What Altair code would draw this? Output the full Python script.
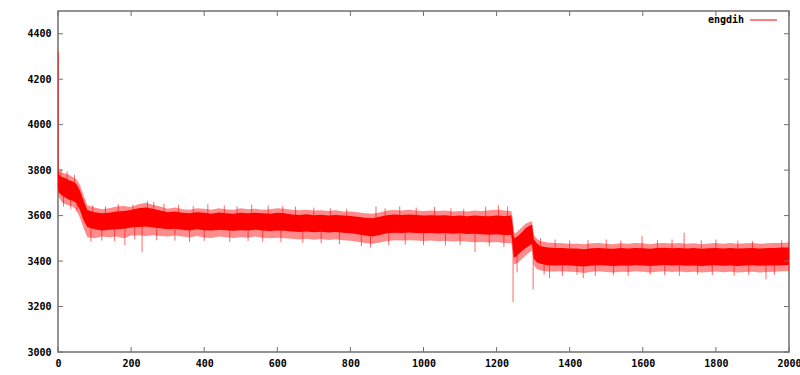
import altair as alt
import pandas as pd

series_name = ["engdih"]

x_vals = [0, 3, 10, 20, 30, 40, 50, 60, 70, 80,
          100, 120, 140, 160, 180, 200, 220, 240, 260, 280,
          300, 320, 340, 360, 380, 400, 420, 440, 460, 480,
          500, 520, 540, 560, 580, 600, 620, 640, 660, 680,
          700, 720, 740, 760, 780, 800, 820, 840, 860, 880,
          900, 920, 940, 960, 980, 1000, 1020, 1040, 1060, 1080,
          1100, 1120, 1140, 1160, 1180, 1200, 1220, 1240, 1244, 1247,
          1250, 1260, 1270, 1280, 1290, 1297, 1302, 1310, 1320, 1340,
          1360, 1380, 1400, 1420, 1440, 1460, 1480, 1500, 1520, 1540,
          1560, 1580, 1600, 1620, 1640, 1660, 1680, 1700, 1720, 1740,
          1760, 1780, 1800, 1820, 1840, 1860, 1880, 1900, 1920, 1940,
          1960, 1980, 2000]

core_lo = [3720, 3700, 3690, 3680, 3670, 3665, 3655, 3625, 3580, 3550,
           3540, 3535, 3538, 3540, 3542, 3548, 3550, 3552, 3548, 3544,
           3540, 3542, 3538, 3535, 3540, 3536, 3534, 3538, 3536, 3533,
           3536, 3534, 3538, 3535, 3532, 3535, 3533, 3530, 3528, 3530,
           3527, 3529, 3526, 3528, 3525, 3522, 3518, 3512, 3508, 3515,
           3522, 3525, 3523, 3526, 3524, 3522, 3524, 3521, 3523, 3520,
           3522, 3519, 3520, 3518, 3516, 3518, 3515, 3515, 3470, 3420,
           3415, 3430, 3445, 3458, 3468, 3475, 3410, 3395, 3388, 3382,
           3380, 3382, 3380, 3378, 3376, 3380, 3382, 3380, 3378, 3381,
           3379, 3382, 3380, 3378, 3381, 3383, 3380, 3382, 3379, 3381,
           3378, 3380, 3382, 3379, 3381, 3378, 3380, 3382, 3379, 3381,
           3380, 3382, 3383]

core_hi = [3800, 3780, 3770, 3765, 3755, 3750, 3740, 3710, 3665, 3625,
           3615, 3610, 3612, 3618, 3620, 3625, 3632, 3636, 3630, 3622,
           3615, 3618, 3612, 3610, 3615, 3612, 3608, 3614, 3610, 3608,
           3612, 3610, 3613, 3610, 3608, 3612, 3610, 3605, 3603, 3606,
           3602, 3604, 3600, 3603, 3600, 3598, 3595, 3590, 3588, 3595,
           3602, 3605, 3603, 3605, 3603, 3600, 3602, 3600, 3602, 3598,
           3600, 3597, 3600, 3598, 3597, 3600, 3598, 3600, 3560, 3510,
           3500, 3512, 3528, 3545, 3555, 3560, 3495, 3478, 3465, 3460,
           3458, 3458, 3455, 3455, 3452, 3456, 3458, 3455, 3454, 3457,
           3455, 3458, 3456, 3454, 3457, 3459, 3456, 3458, 3455, 3457,
           3454, 3456, 3458, 3455, 3457, 3455, 3456, 3458, 3455, 3457,
           3458, 3460, 3460]

out_lo = [3700, 3680, 3660, 3650, 3645, 3640, 3625, 3590, 3545, 3505,
          3500, 3508, 3505, 3508, 3500, 3512, 3514, 3510, 3514, 3510,
          3508, 3512, 3508, 3504, 3510, 3504, 3502, 3508, 3505, 3502,
          3505, 3503, 3508, 3503, 3500, 3503, 3500, 3498, 3495, 3498,
          3494, 3497, 3493, 3496, 3492, 3489, 3485, 3480, 3476, 3482,
          3488, 3492, 3490, 3492, 3490, 3488, 3490, 3487, 3489, 3486,
          3488, 3485, 3483, 3484, 3482, 3484, 3480, 3480, 3440, 3390,
          3385, 3395, 3410, 3425, 3440, 3445, 3380, 3365, 3358, 3354,
          3354, 3355, 3353, 3352, 3348, 3353, 3355, 3352, 3350, 3353,
          3352, 3355, 3353, 3350, 3353, 3355, 3352, 3354, 3351, 3353,
          3350, 3352, 3354, 3351, 3353, 3350, 3352, 3353, 3350, 3352,
          3353, 3355, 3355]

out_hi = [3820, 3800, 3790, 3785, 3780, 3770, 3760, 3735, 3690, 3645,
          3636, 3628, 3632, 3640, 3642, 3638, 3650, 3656, 3648, 3640,
          3630, 3636, 3628, 3626, 3632, 3630, 3626, 3632, 3628, 3626,
          3632, 3628, 3630, 3626, 3628, 3632, 3630, 3626, 3623, 3626,
          3622, 3624, 3620, 3623, 3618, 3618, 3615, 3610, 3608, 3614,
          3622, 3625, 3622, 3626, 3622, 3620, 3622, 3620, 3622, 3618,
          3620, 3618, 3622, 3620, 3624, 3626, 3622, 3620, 3590, 3530,
          3520, 3535, 3550, 3565, 3572, 3575, 3515, 3498, 3488, 3482,
          3480, 3478, 3476, 3476, 3474, 3478, 3480, 3476, 3474, 3478,
          3476, 3480, 3478, 3474, 3478, 3480, 3477, 3480, 3476, 3478,
          3474, 3477, 3480, 3476, 3479, 3476, 3478, 3480, 3476, 3478,
          3480, 3480, 3482]

spike_x = [1, 2, 183, 230, 1141, 1245, 1256, 1300, 1345, 1437, 1598, 1713, 1937,
           8, 25, 45, 15, 35, 52,
           95, 130, 165, 205, 245, 262, 290, 330, 370, 410, 455, 490, 530, 575,
           615, 650, 700, 745, 790, 870, 895, 935, 980, 1030, 1075, 1110, 1170,
           1205, 1230,
           90, 120, 155, 210, 270, 320, 360, 400, 470, 520, 560, 610, 670, 720,
           770, 830, 855, 905, 950, 1000, 1060, 1100, 1180, 1220,
           1320, 1360, 1400, 1450, 1500, 1540, 1640, 1680, 1760, 1800, 1860,
           1900, 1980,
           1330, 1380, 1420, 1470, 1520, 1560, 1620, 1660, 1700, 1750, 1790,
           1850, 1890, 1960]
spike_y = [4320, 3720, 3470, 3440, 3440, 3220, 3350, 3275, 3325, 3325, 3510, 3525, 3320,
           3805, 3795, 3780, 3640, 3630, 3620,
           3645, 3640, 3650, 3648, 3665, 3660, 3652, 3648, 3642, 3650, 3645, 3640,
           3648, 3645, 3642, 3640, 3635, 3632, 3630, 3640, 3632, 3640, 3635, 3638,
           3632, 3630, 3640, 3645, 3640,
           3485, 3490, 3488, 3495, 3492, 3490, 3485, 3488, 3484, 3488, 3485, 3482,
           3480, 3478, 3475, 3465, 3460, 3470, 3472, 3470, 3468, 3470, 3465, 3462,
           3500, 3495, 3490, 3492, 3495, 3490, 3492, 3495, 3492, 3495, 3490, 3488,
           3492,
           3340, 3335, 3340, 3335, 3338, 3335, 3340, 3338, 3335, 3340, 3338, 3335,
           3338, 3340]
spike_base = [3760, 3760, 3570, 3580, 3540, 3480, 3440, 3480, 3420, 3415, 3420, 3420, 3420,
              3740, 3730, 3710, 3720, 3710, 3700,
              3580, 3575, 3578, 3585, 3590, 3590, 3582, 3578, 3575, 3575, 3575, 3572,
              3574, 3572, 3572, 3568, 3565, 3564, 3562, 3555, 3558, 3564, 3564, 3562,
              3560, 3560, 3558, 3558, 3558,
              3580, 3575, 3578, 3585, 3590, 3580, 3575, 3575, 3572, 3574, 3572, 3572,
              3566, 3565, 3564, 3556, 3550, 3560, 3564, 3562, 3562, 3560, 3558, 3558,
              3425, 3420, 3418, 3418, 3418, 3418, 3418, 3418, 3418, 3418, 3418, 3418,
              3418,
              3425, 3420, 3418, 3418, 3418, 3418, 3418, 3418, 3418, 3418, 3418, 3418,
              3418, 3418]

x_ticks = [0, 200, 400, 600, 800, 1000, 1200, 1400, 1600, 1800, 2000]
y_ticks = [3000, 3200, 3400, 3600, 3800, 4000, 4200, 4400]

W, H = 731, 341
FONT = "DejaVu Sans Mono"
FRAME = "#707070"

band = pd.DataFrame({"x": x_vals, "core_lo": core_lo, "core_hi": core_hi,
                     "out_lo": out_lo, "out_hi": out_hi})
spikes = pd.DataFrame({"x": spike_x, "y": spike_y, "base": spike_base})
xt = pd.DataFrame({"t": x_ticks})
yt = pd.DataFrame({"t": y_ticks})
leg = pd.DataFrame({"name": series_name})

xs = alt.Scale(domain=[0, 2000], nice=False, zero=False)
ys = alt.Scale(domain=[3000, 4500], nice=False, zero=False)

lab = dict(labelFont=FONT, labelFontWeight="bold", labelFontSize=10, format="d",
           labelColor="black", ticks=False, domain=False, grid=False, title=None)

outer = alt.Chart(band).mark_area(color="#ff0000", opacity=0.45).encode(
    x=alt.X("x:Q", scale=xs, axis=alt.Axis(values=x_ticks, labelPadding=6,
                                           labelFlush=False, **lab)),
    y=alt.Y("out_lo:Q", scale=ys, axis=alt.Axis(values=y_ticks, labelPadding=7, **lab)),
    y2="out_hi:Q",
)
core = alt.Chart(band).mark_area(color="#ff0000").encode(
    x=alt.X("x:Q", scale=xs), y=alt.Y("core_lo:Q", scale=ys), y2="core_hi:Q"
)
spk = alt.Chart(spikes).mark_rule(color="#ff0000", strokeWidth=1, opacity=0.6).encode(
    x=alt.X("x:Q", scale=xs), y=alt.Y("y:Q", scale=ys), y2="base:Q"
)

tb = alt.Chart(xt).mark_rule(color=FRAME, strokeWidth=1).encode(
    x=alt.X("t:Q", scale=xs), y=alt.value(H), y2=alt.value(H - 5))
tt = alt.Chart(xt).mark_rule(color=FRAME, strokeWidth=1).encode(
    x=alt.X("t:Q", scale=xs), y=alt.value(0), y2=alt.value(5))
tl = alt.Chart(yt).mark_rule(color=FRAME, strokeWidth=1).encode(
    y=alt.Y("t:Q", scale=ys), x=alt.value(0), x2=alt.value(5))
tr = alt.Chart(yt).mark_rule(color=FRAME, strokeWidth=1).encode(
    y=alt.Y("t:Q", scale=ys), x=alt.value(W), x2=alt.value(W - 5))

leg_text = alt.Chart(leg).mark_text(font=FONT, fontWeight="bold", fontSize=10,
                                    align="right", baseline="middle", color="black").encode(
    text="name:N", x=alt.value(686), y=alt.value(9))
leg_line = alt.Chart(leg).mark_rule(color="#ff0000", strokeWidth=1).encode(
    x=alt.value(692), x2=alt.value(719), y=alt.value(9))

chart = alt.layer(outer, core, spk, tb, tt, tl, tr, leg_text, leg_line).properties(
    width=W, height=H,
    padding={"left": 58, "top": 11, "right": 11, "bottom": 23},
    autosize=alt.AutoSizeParams(type="none"),
    background="white",
).configure_view(stroke=FRAME, strokeWidth=1.5)

chart.save("out.html", embed_options={"renderer": "svg", "actions": False})
